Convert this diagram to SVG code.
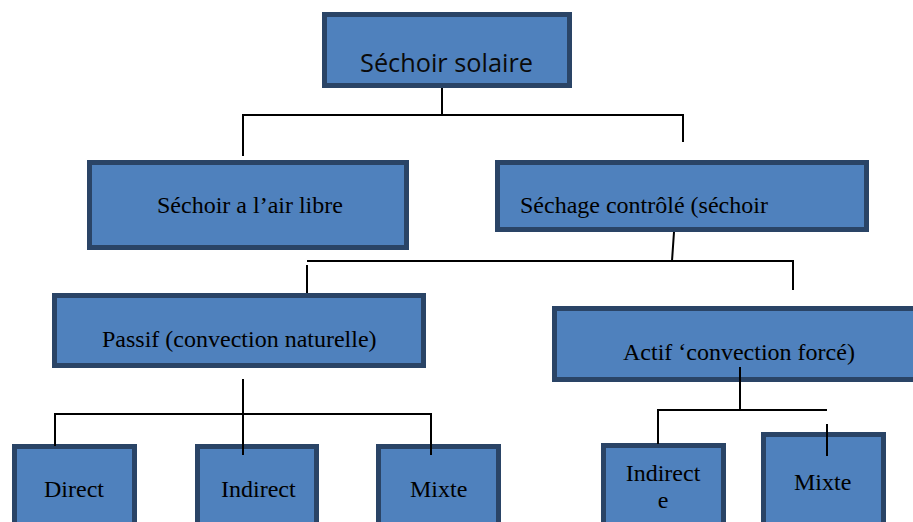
<svg xmlns="http://www.w3.org/2000/svg" width="913" height="522" viewBox="0 0 913 522">
<style>
.box{fill:#4f81bd;stroke:#2a4466;stroke-width:5}
.t{font-family:"Liberation Serif","Times New Roman",serif;font-size:24px;fill:#000}
.ts{font-family:"Open Sans","Noto Sans",sans-serif;font-size:26px;fill:#0a0a0a}
.c{stroke:#000;stroke-width:2;fill:none}
</style>
<rect width="913" height="522" fill="#fff"/>
<g id="n-root"><rect class="box" x="324.5" y="14.5" width="245" height="71"/><text class="ts" x="360" y="72" textLength="173" lengthAdjust="spacingAndGlyphs">Séchoir solaire</text></g>
<g id="n-libre"><rect class="box" x="89.5" y="162.5" width="317" height="85"/><text class="t" x="157" y="213">Séchoir a l’air libre</text></g>
<g id="n-controle"><rect class="box" x="497.5" y="162.5" width="369" height="67"/><text class="t" x="520" y="213">Séchage contrôlé (séchoir</text></g>
<g id="n-passif"><rect class="box" x="54.5" y="295.5" width="369" height="70"/><text class="t" x="102" y="347">Passif (convection naturelle)</text></g>
<g id="n-actif"><rect class="box" x="554.5" y="308.5" width="372" height="71"/><text class="t" x="623" y="360">Actif ‘convection forcé)</text></g>
<g id="n-direct"><rect class="box" x="14.5" y="446.5" width="120" height="100"/><text class="t" x="44" y="497">Direct</text></g>
<g id="n-indirect"><rect class="box" x="197.5" y="446.5" width="119" height="100"/><text class="t" x="221" y="497">Indirect</text></g>
<g id="n-mixte"><rect class="box" x="378.5" y="446.5" width="120" height="100"/><text class="t" x="410" y="497">Mixte</text></g>
<g id="n-indirecte"><rect class="box" x="603.5" y="445.5" width="120" height="100"/><text class="t" x="663" y="481" text-anchor="middle">Indirect</text><text class="t" x="663" y="508" text-anchor="middle">e</text></g>
<g id="n-mixte2"><rect class="box" x="763.5" y="434.5" width="120" height="100"/><text class="t" x="794" y="490">Mixte</text></g>
<g id="connectors">
<path class="c" d="M442 88V115M243 156V115H683V142"/>
<path class="c" d="M674 232L672 261M307 293V265M307 261H793V290"/>
<path class="c" d="M243 379V455M55 446V414H431V455"/>
<path class="c" d="M740 367V410M658 444V410H827M827 424V456"/>
</g>
</svg>
